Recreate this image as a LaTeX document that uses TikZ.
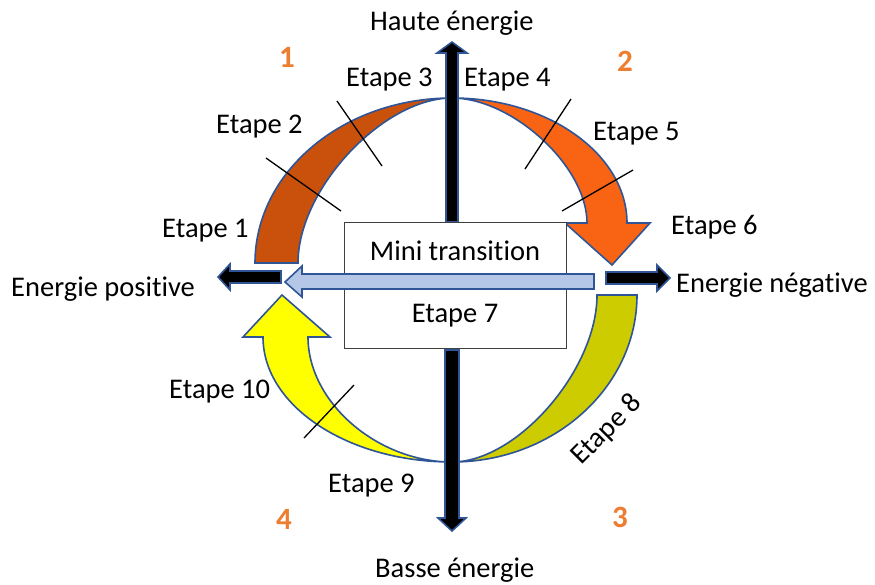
\documentclass[tikz,border=0pt]{standalone}
\usepackage{fontspec}
\setmainfont{Carlito}[Ligatures=NoCommon]
\definecolor{bord}{HTML}{2F5597}
\definecolor{darkor}{HTML}{C9510C}
\definecolor{brightor}{HTML}{F96414}
\definecolor{olive}{HTML}{CCCC00}
\definecolor{yel}{HTML}{FFFF00}
\definecolor{lblue}{HTML}{B4C7E7}
\definecolor{numor}{HTML}{ED7D31}
\definecolor{boxc}{HTML}{404040}
\begin{document}
\begin{tikzpicture}[x=1pt,y=-1pt,
  band/.style={draw=bord, line width=1.6pt, line join=miter},
  blk/.style={fill=black, draw=bord, line width=1.6pt, line join=miter},
  lbl/.style={font=\fontsize{28.5}{33}\selectfont, inner sep=0pt, anchor=base west},
  num/.style={font=\fontsize{31}{35}\selectfont\bfseries, text=numor, inner sep=0pt, anchor=base west},
  tick/.style={line width=1.3pt}]
\useasboundingbox (0,0) rectangle (875,584);
% bands
\draw[band, fill=darkor] (255,263) .. controls (255,172) and (343,98) .. (452,98)
   .. controls (383,98) and (298,189) .. (298,263) -- cycle;
\draw[band, fill=brightor] (452,98) .. controls (549,98) and (627,155) .. (627,223)
   -- (650,223) -- (612,265) -- (565,223) -- (587,223)
   .. controls (587,166) and (512,98) .. (452,98) -- cycle;
\draw[band, fill=olive] (637,295) .. controls (637,387) and (554,462) .. (452,462)
   .. controls (517,462) and (597,370) .. (597,295) -- cycle;
\draw[band, fill=yel] (452,462) .. controls (348,462) and (263,406) .. (263,337)
   -- (243,337) -- (282,295) -- (330,337) -- (308,337)
   .. controls (308,402) and (377,462) .. (452,462) -- cycle;
% ticks
\draw[tick] (266,158) -- (341,211);
\draw[tick] (337,101) -- (382,166);
\draw[tick] (571,99) -- (525,169);
\draw[tick] (633,170) -- (562,211);
\draw[tick] (354,385) -- (304,438);
% vertical arrows
\draw[blk] (446,222) -- (446,53) -- (437,53) -- (452,42) -- (467,53) -- (458,53) -- (458,222) -- cycle;
\draw[blk] (445,350) -- (445,518) -- (438,518) -- (452,531) -- (466,518) -- (459,518) -- (459,350) -- cycle;
% box
\node[draw=boxc, line width=1pt, fill=white, minimum width=222pt, minimum height=126pt, inner sep=0pt, anchor=north west] (box) at (344,222) {};
% horizontal arrows
\draw[blk] (281,271) -- (230,271) -- (230,264) -- (218,277) -- (230,290) -- (230,283) -- (281,283) -- cycle;
\draw[blk] (606,272) -- (657,272) -- (657,265) -- (670,278) -- (657,291) -- (657,284) -- (606,284) -- cycle;
\draw[band, fill=lblue] (594,274) -- (302,274) -- (302,266) -- (285,282) -- (302,297) -- (302,289) -- (594,289) -- cycle;
% labels
\node[lbl] (haut) at (370,30) {Haute énergie};
\node[lbl] (e3) at (346,86) {Etape 3};
\node[lbl] (e4) at (464,86) {Etape 4};
\node[lbl] (e2) at (216,133) {Etape 2};
\node[lbl] (e1) at (162,237) {Etape 1};
\node[lbl] (pos) at (11,296) {Energie positive};
\node[lbl] (e5) at (593,140) {Etape 5};
\node[lbl] (e6) at (671,234) {Etape 6};
\node[lbl] (neg) at (676,292) {Energie négative};
\node[lbl] (e10) at (169,398) {Etape 10};
\node[lbl] (e9) at (328,492) {Etape 9};
\node[lbl] (bas) at (375,577) {Basse énergie};
\node[lbl, anchor=base] (mini) at (455,260) {Mini transition};
\node[lbl, anchor=base] (e7) at (455,322) {Etape 7};
\node[lbl, anchor=center, rotate=45] (e8) at (607,430) {Etape 8};
\node[num] (n1) at (279,67) {1};
\node[num] (n2) at (617,71) {2};
\node[num] (n3) at (612,527) {3};
\node[num] (n4) at (276,529) {4};
\end{tikzpicture}
\end{document}
